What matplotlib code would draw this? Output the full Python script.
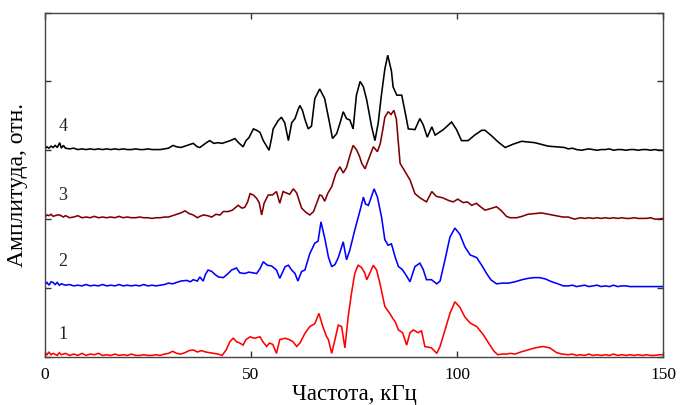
import matplotlib
matplotlib.use("Agg")
import matplotlib.pyplot as plt

plt.rcParams['font.family'] = ['Liberation Serif', 'DejaVu Serif']

# Amplitude spectra, stacked with a unit offset (trace n sits on level n-1)
freq_1 = [0, 0.5, 1, 1.5, 2, 3, 3.5, 4, 5, 6, 7, 8, 9, 10, 11, 12, 13, 14, 15, 16, 17, 18, 19, 20,
          21, 22, 23, 24, 25, 26, 27, 28, 29, 30, 31, 32, 33, 34, 35, 36, 37, 38, 39, 40, 41, 42, 43,
          44, 44.9, 45.7, 46.5, 47.3, 48.1, 48.8, 49.8, 50.8, 51.5, 52.2, 52.9, 53.8, 54.5, 55.3,
          56.2, 57.0, 58.3, 59.3, 60.2, 61.1, 61.9, 63.1, 64.3, 65.5, 66.5, 67.4, 68.3, 68.8, 69.6,
          70.4, 71.2, 72.0, 72.8, 73.6, 74.4, 75.2, 76.0, 76.8, 77.6, 78.1, 78.9, 79.7, 80.5, 81.3,
          82.5, 83.7, 84.5, 85.0, 85.8, 86.8, 87.8, 88.6, 89.4, 90.6, 91.4, 92.2, 93.8, 95.1, 95.9,
          97.1, 98.3, 99.5, 100.7, 101.9, 103.2, 104.8, 106.4, 108.0, 109.0, 109.9, 111, 112, 113,
          114.1, 115.5, 117.3, 119, 120.9, 122.5, 124.2, 125.5, 127, 128, 129, 130, 131, 132, 133,
          134, 135, 136, 137, 138, 139, 140, 141, 142, 143, 144, 145, 146, 147, 148, 149, 150]
amp_1 = [0.06, 0.03, 0.07, 0.03, 0.05, 0.02, 0.06, 0.03, 0.05, 0.02, 0.04, 0.02, 0.05, 0.02, 0.04,
         0.03, 0.05, 0.02, 0.03, 0.02, 0.04, 0.02, 0.03, 0.02, 0.04, 0.02, 0.02, 0.03, 0.02, 0.02,
         0.03, 0.02, 0.04, 0.05, 0.08, 0.05, 0.04, 0.06, 0.09, 0.10, 0.07, 0.09, 0.07, 0.06, 0.05,
         0.04, 0.02, 0.10, 0.22, 0.27, 0.22, 0.20, 0.17, 0.25, 0.29, 0.27, 0.28, 0.29, 0.22, 0.15,
         0.20, 0.18, 0.05, 0.25, 0.27, 0.25, 0.22, 0.15, 0.20, 0.34, 0.44, 0.48, 0.63, 0.45, 0.30,
         0.25, 0.05, 0.25, 0.46, 0.44, 0.13, 0.58, 0.92, 1.21, 1.33, 1.30, 1.22, 1.12, 1.22, 1.33,
         1.26, 1.07, 0.73, 0.63, 0.55, 0.51, 0.39, 0.35, 0.17, 0.35, 0.39, 0.35, 0.38, 0.15, 0.13,
         0.05, 0.15, 0.39, 0.63, 0.80, 0.72, 0.58, 0.49, 0.44, 0.32, 0.17, 0.08, 0.03, 0.04, 0.04,
         0.05, 0.04, 0.07, 0.10, 0.13, 0.15, 0.13, 0.06, 0.04, 0.03, 0.04, 0.02, 0.03, 0.02, 0.04,
         0.02, 0.03, 0.02, 0.03, 0.02, 0.04, 0.02, 0.03, 0.02, 0.03, 0.02, 0.03, 0.02, 0.03, 0.02,
         0.02, 0.03, 0.03]

freq_2 = [0, 0.5, 1, 1.5, 2, 2.5, 3, 3.5, 4, 5, 6, 7, 8, 9, 10, 11, 12, 13, 14, 15, 16, 17, 18, 19,
          20, 21, 22, 23, 24, 25, 26, 27, 28, 29, 30, 31, 32, 33, 34.4, 35.3, 36, 37, 37.6, 38.4, 39,
          39.6, 40.5, 41.2, 42.1, 43.3, 44.3, 45.3, 46.5, 47.3, 48.5, 49.5, 50.5, 51.4, 52.2, 53.0,
          54.0, 55.0, 56.2, 57.0, 57.6, 58.3, 59.1, 59.9, 60.7, 61.4, 62.3, 63.1, 64.3, 65.5, 66.3,
          67.0, 68.0, 68.8, 69.6, 70.4, 71.2, 72.4, 73.2, 74.0, 75.2, 76.5, 77.3, 77.8, 78.5, 79.1,
          79.9, 80.7, 81.7, 82.5, 83.3, 84.1, 85.0, 85.8, 86.7, 87.5, 88.6, 89.8, 91.0, 91.8, 92.6,
          93.8, 95.1, 95.9, 97.1, 98.3, 99.5, 100.7, 101.9, 103.2, 104.8, 106.0, 107.2, 108.2, 109.6,
          111, 112.5, 114.1, 115.8, 117.3, 118.7, 120.1, 121.5, 123, 124.5, 125.8, 127, 128, 129, 130,
          131, 132, 133, 134, 135, 136, 137, 138, 139, 140, 141, 142, 150]
amp_2 = [1.05, 1.08, 1.04, 1.09, 1.08, 1.05, 1.08, 1.04, 1.06, 1.04, 1.05, 1.03, 1.04, 1.03, 1.05,
         1.03, 1.04, 1.03, 1.05, 1.03, 1.04, 1.03, 1.05, 1.03, 1.04, 1.03, 1.04, 1.03, 1.05, 1.03,
         1.04, 1.03, 1.04, 1.05, 1.07, 1.06, 1.08, 1.10, 1.11, 1.09, 1.12, 1.10, 1.16, 1.10, 1.20,
         1.26, 1.24, 1.20, 1.16, 1.15, 1.20, 1.26, 1.29, 1.22, 1.21, 1.23, 1.22, 1.21, 1.28, 1.38,
         1.33, 1.32, 1.26, 1.14, 1.22, 1.31, 1.33, 1.26, 1.21, 1.10, 1.24, 1.26, 1.50, 1.65, 1.68,
         1.96, 1.70, 1.45, 1.31, 1.34, 1.44, 1.67, 1.41, 1.55, 1.84, 2.13, 2.32, 2.22, 2.20, 2.30,
         2.44, 2.32, 2.03, 1.70, 1.62, 1.64, 1.45, 1.31, 1.27, 1.20, 1.09, 1.31, 1.36, 1.27, 1.12,
         1.12, 1.06, 1.10, 1.41, 1.74, 1.87, 1.78, 1.60, 1.48, 1.44, 1.33, 1.21, 1.12, 1.06, 1.07,
         1.07, 1.09, 1.12, 1.14, 1.15, 1.15, 1.13, 1.09, 1.06, 1.03, 1.03, 1.04, 1.02, 1.03, 1.04,
         1.02, 1.03, 1.04, 1.02, 1.03, 1.02, 1.04, 1.02, 1.03, 1.03, 1.02, 1.02]

freq_3 = [0, 0.5, 1, 1.5, 2, 3, 3.6, 4.5, 5, 6, 7, 8, 9, 10, 11, 12, 13, 14, 15, 16, 17, 18, 19, 20,
          21, 22, 23, 24, 25, 26, 27, 28, 29, 30, 31, 32, 33, 34, 35, 36, 37, 37.6, 38.5, 39.5, 40.5,
          41.5, 42.5, 43.3, 44.5, 45.5, 46.9, 47.8, 48.5, 49.2, 49.8, 50.6, 51.4, 52.0, 52.6, 53.2,
          54.2, 55.2, 56.2, 57.0, 57.8, 58.6, 59.4, 60.3, 61.1, 62.3, 63.3, 64.3, 65.2, 66.7, 67.2,
          67.9, 68.7, 69.6, 70.6, 71.6, 72.4, 73.2, 74.0, 74.8, 75.6, 76.3, 76.9, 77.7, 78.5, 79.7,
          80.7, 81.4, 82.0, 82.5, 83.3, 84.0, 84.7, 85.3, 86.2, 87.4, 88.6, 89.8, 91.0, 92.6, 93.9,
          95.0, 96.5, 98.0, 99.1, 100.2, 101.5, 102.5, 103.6, 104.7, 105.7, 106.8, 108.0, 109.6,
          110.8, 112.0, 112.9, 114.5, 115.8, 117.2, 118.9, 120.5, 122.2, 123.9, 125.7, 127, 128.5,
          130, 131, 132, 133, 134, 135, 136, 137, 138, 139, 140, 141, 142, 143, 144, 145, 146, 147,
          148, 149, 150]
amp_3 = [2.03, 2.06, 2.05, 2.07, 2.04, 2.06, 2.06, 2.03, 2.05, 2.02, 2.03, 2.05, 2.02, 2.03, 2.02,
         2.04, 2.02, 2.03, 2.02, 2.03, 2.02, 2.04, 2.02, 2.03, 2.02, 2.02, 2.03, 2.02, 2.02, 2.01,
         2.02, 2.02, 2.03, 2.03, 2.05, 2.07, 2.09, 2.12, 2.08, 2.06, 2.02, 2.04, 2.06, 2.05, 2.03,
         2.07, 2.06, 2.11, 2.11, 2.13, 2.20, 2.16, 2.17, 2.25, 2.37, 2.35, 2.30, 2.24, 2.06, 2.23,
         2.35, 2.35, 2.40, 2.23, 2.40, 2.38, 2.36, 2.44, 2.38, 2.16, 2.10, 2.06, 2.11, 2.35, 2.34,
         2.26, 2.38, 2.47, 2.66, 2.76, 2.67, 2.75, 2.92, 3.07, 3.01, 2.92, 2.81, 2.73, 2.86, 3.05,
         2.98, 3.10, 3.30, 3.48, 3.56, 3.52, 3.58, 3.45, 2.81, 2.69, 2.57, 2.37, 2.31, 2.25, 2.40,
         2.33, 2.31, 2.27, 2.25, 2.29, 2.24, 2.25, 2.20, 2.23, 2.18, 2.13, 2.15, 2.18, 2.12, 2.04,
         2.02, 2.02, 2.04, 2.07, 2.08, 2.09, 2.07, 2.05, 2.03, 2.03, 2.00, 2.02, 2.01, 2.02, 2.01,
         2.02, 2.01, 2.02, 2.01, 2.02, 2.01, 2.02, 2.01, 2.01, 2.02, 2.01, 2.01, 2.01, 2.02, 2.00,
         2.00, 2.01]

freq_4 = [0, 0.5, 1, 1.5, 2, 2.5, 3, 3.6, 4, 4.5, 5, 6, 7, 8, 9, 10, 11, 12, 13, 14, 15, 16, 17, 18,
          19, 20, 21, 22, 23, 24, 25, 26, 27, 28, 29, 30, 31.1, 32, 33, 34, 35, 36, 37, 37.6, 38.5,
          39.2, 40, 41, 42, 43, 44, 45, 46.1, 47, 48.1, 48.8, 49.5, 50.6, 51.4, 52.2, 53.0, 54.4,
          55.0, 55.4, 56.6, 57.4, 58.2, 59.1, 59.9, 60.7, 61.5, 61.9, 62.5, 63.1, 63.9, 64.7, 65.5,
          66.7, 67.9, 69.2, 69.8, 70.8, 71.6, 72.4, 73.2, 74.0, 74.8, 75.6, 76.5, 77.3, 78.1, 79.3,
          80.1, 80.9, 81.6, 82.5, 83.2, 84.1, 84.5, 85.4, 86.6, 87.4, 88.2, 89.8, 91.0, 91.8, 92.8,
          93.9, 94.7, 96.7, 98.7, 99.9, 101.1, 102.7, 104.3, 106.0, 106.8, 108.4, 110.0, 111.7,
          113.7, 115.7, 118.9, 122.1, 126.1, 127, 128, 129, 130.3, 131, 132, 133, 134, 135, 136, 137,
          138, 139, 140, 141, 142, 143, 144, 145, 146, 147, 148, 149, 150]
amp_4 = [3.02, 3.05, 3.03, 3.06, 3.04, 3.07, 3.04, 3.11, 3.03, 3.07, 3.03, 3.02, 3.03, 3.01, 3.02,
         3.01, 3.02, 3.01, 3.02, 3.01, 3.02, 3.01, 3.02, 3.01, 3.02, 3.01, 3.01, 3.02, 3.01, 3.01,
         3.02, 3.01, 3.01, 3.01, 3.02, 3.03, 3.07, 3.05, 3.04, 3.06, 3.08, 3.10, 3.05, 3.04, 3.08,
         3.11, 3.14, 3.10, 3.11, 3.10, 3.12, 3.14, 3.17, 3.11, 3.05, 3.14, 3.18, 3.31, 3.29, 3.26,
         3.14, 3.00, 3.17, 3.31, 3.43, 3.48, 3.40, 3.14, 3.40, 3.46, 3.60, 3.65, 3.58, 3.45, 3.31,
         3.35, 3.75, 3.89, 3.75, 3.36, 3.17, 3.24, 3.39, 3.56, 3.46, 3.44, 3.31, 3.80, 4.00, 3.92,
         3.73, 3.34, 3.14, 3.40, 3.77, 4.18, 4.38, 4.15, 3.92, 3.80, 3.80, 3.56, 3.31, 3.30, 3.46,
         3.37, 3.19, 3.34, 3.22, 3.30, 3.41, 3.30, 3.14, 3.14, 3.22, 3.29, 3.29, 3.21, 3.12, 3.04,
         3.09, 3.13, 3.11, 3.06, 3.04, 3.02, 3.03, 3.01, 3.00, 3.01, 3.02, 3.01, 3.00, 3.01, 3.01,
         3.02, 3.00, 3.01, 3.01, 3.00, 3.01, 3.01, 3.00, 3.01, 3.01, 3.00, 3.01, 3.00, 3.00]

traces = [
    (freq_1, amp_1, '#ff0000', '1', 0.32),
    (freq_2, amp_2, '#0000ff', '2', 1.38),
    (freq_3, amp_3, '#800000', '3', 2.35),
    (freq_4, amp_4, '#000000', '4', 3.35),
]

x_ticks = [0, 50, 100, 150]
y_levels = [0, 1, 2, 3, 4, 5]

fig = plt.figure(figsize=(6.8, 4.05), dpi=100)
ax = fig.add_axes([0.066, 0.119, 0.909, 0.850])

for f, a, color, label, label_y in traces:
    ax.plot(f, a, color=color, lw=1.15, solid_joinstyle='miter')
    ax.text(4.4, label_y, label, fontsize=13, ha='center', va='center', color='#222222')

ax.set_xlim(0, 150)
ax.set_ylim(0, 5)
ax.set_xticks(x_ticks)
ax.set_yticks(y_levels)
ax.set_yticklabels([])
ax.tick_params(direction='in', top=True, right=True, length=4, width=1,
               color='#333333', labelsize=12.5, pad=7)
for spine in ax.spines.values():
    spine.set_color('#444444')
    spine.set_linewidth(1.0)

ax.set_xlabel('Частота, кГц', fontsize=16.5, labelpad=1)
ax.set_ylabel('Амплитуда, отн.', fontsize=17, labelpad=5)

fig.savefig('out.png', dpi=100)
